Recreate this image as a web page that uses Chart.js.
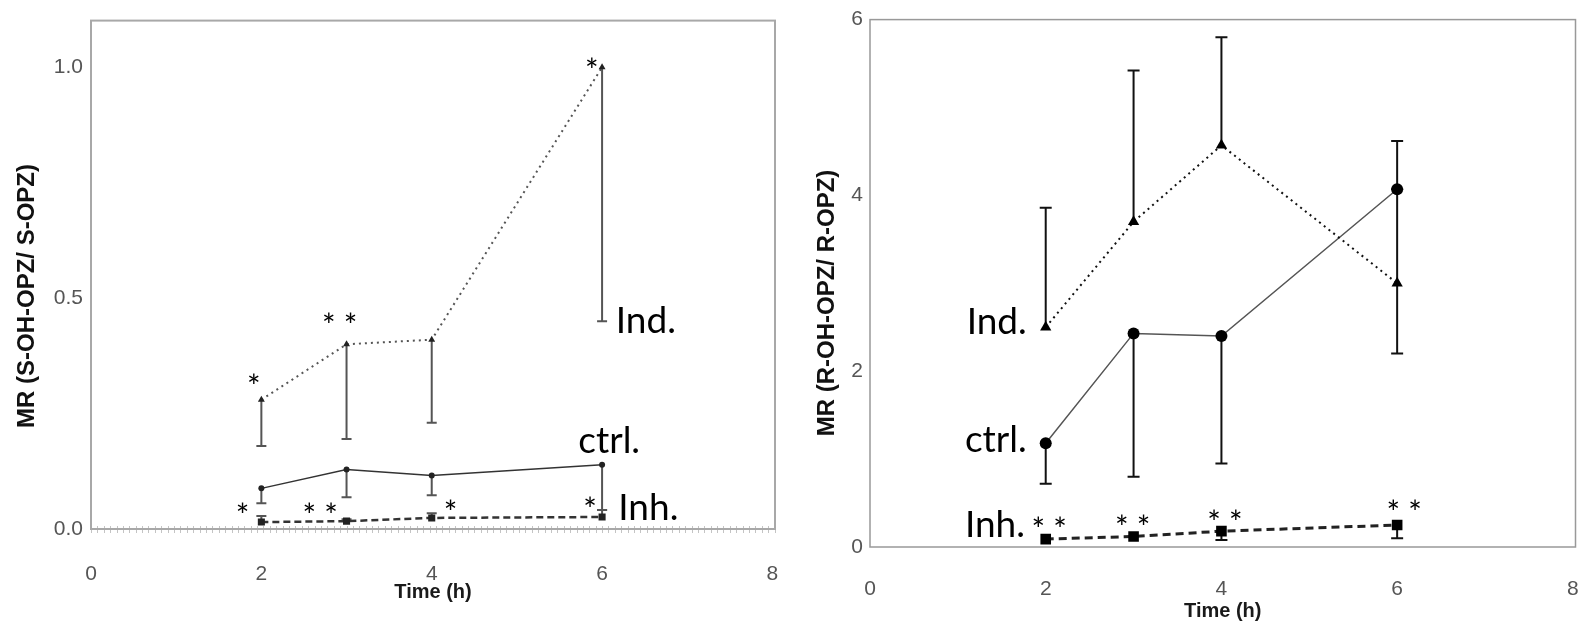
<!DOCTYPE html>
<html>
<head>
<meta charset="utf-8">
<script src="https://cdn.jsdelivr.net/npm/chart.js@4.4.1/dist/chart.umd.min.js"></script>
<style>
  html, body { margin: 0; padding: 0; background: #fff; }
  body { width: 1583px; height: 626px; position: relative; overflow: hidden; }
  .panel { position: absolute; top: 0; height: 626px; }
  #leftPanel { left: 0; width: 790px; }
  #rightPanel { left: 790px; width: 793px; }
</style>
</head>
<body>
<div class="panel" id="leftPanel"><canvas id="leftChart" width="790" height="626"></canvas></div>
<div class="panel" id="rightPanel"><canvas id="rightChart" width="793" height="626"></canvas></div>
<script>
// time points (h) and axis ticks
const times = [2, 3, 4, 6];
const xTicks = [0, 2, 4, 6, 8];

// left panel: MR (S-OH-OPZ / S-OPZ)
const sInd = [0.28, 0.40, 0.41, 1.00];
const sIndErrDown = [0.10, 0.205, 0.18, 0.55];
const sCtrl = [0.088, 0.129, 0.116, 0.139];
const sCtrlErrDown = [0.032, 0.06, 0.043, 0.098];
const sInh = [0.015, 0.017, 0.024, 0.026];
const sInhErrUp = [0.013, 0.004, 0.010, 0.015];
const sYTicks = [0, 0.5, 1.0];

// right panel: MR (R-OH-OPZ / R-OPZ)
const rInd = [2.50, 3.70, 4.57, 3.00];
const rIndErrUp = [1.36, 1.72, 1.23, 1.07];
const rIndErrDown = [0, 0, 0, 0.80];
const rCtrl = [1.18, 2.43, 2.40, 4.07];
const rCtrlErrUp = [0, 0, 0, 0.55];
const rCtrlErrDown = [0.46, 1.63, 1.45, 0];
const rInh = [0.09, 0.12, 0.18, 0.25];
const rInhErrDown = [0, 0, 0.10, 0.15];
const rYTicks = [0, 2, 4, 6];

// significance marks and group labels (data coords)
const sStars = [[1.91, 0.324, "*"], [2.92, 0.457, "* *"], [5.88, 1.01, "*"],
                [1.78, 0.045, "*"], [2.69, 0.045, "* *"], [4.22, 0.052, "*"], [5.86, 0.058, "*"]];
const sLabels = [[6.16, 0.425, "Ind."], [5.72, 0.165, "ctrl."], [6.19, 0.019, "Inh."]];
const rStars = [[2.04, 0.28, "* *"], [2.99, 0.31, "* *"], [4.04, 0.36, "* *"], [6.08, 0.48, "* *"]];
const rLabels = [[1.10, 2.42, "Ind."], [1.08, 1.08, "ctrl."], [1.08, 0.11, "Inh."]];

const tickFont = "'Liberation Sans', Arial, sans-serif";
const noteFont = "Lato, 'Open Sans', sans-serif";

// error bars, drawn under the markers
const errorBars = {
    id: "errorBars",
    beforeDatasetsDraw(chart, args, opts) {
        const ctx = chart.ctx, xs = chart.scales.x, ys = chart.scales.y;
        ctx.save();
        ctx.strokeStyle = opts.color;
        ctx.lineWidth = opts.width;
        chart.data.datasets.forEach(ds => {
            ds.data.forEach((p, i) => {
                const px = xs.getPixelForValue(p.x);
                [[ds.errUp, 1], [ds.errDown, -1]].forEach(([arr, sign]) => {
                    if (!arr || !arr[i]) return;
                    const py0 = ys.getPixelForValue(p.y);
                    const py1 = ys.getPixelForValue(p.y + sign * arr[i]);
                    ctx.beginPath();
                    ctx.moveTo(px, py0);
                    ctx.lineTo(px, py1);
                    ctx.moveTo(px - opts.cap, py1);
                    ctx.lineTo(px + opts.cap, py1);
                    ctx.stroke();
                });
            });
        });
        ctx.restore();
    }
};

// frame, minor ticks, y title, stars and labels
const decorations = {
    id: "decorations",
    beforeDatasetsDraw(chart, args, opts) {
        const ctx = chart.ctx, a = chart.chartArea, xs = chart.scales.x;
        ctx.save();
        if (opts.minorStep) {
            ctx.strokeStyle = "#c4c4c4";
            ctx.lineWidth = 1;
            ctx.beginPath();
            for (let v = 0; v <= xs.max; v += opts.minorStep) {
                const px = Math.round(xs.getPixelForValue(v)) + 0.5;
                ctx.moveTo(px, a.bottom - 3);
                ctx.lineTo(px, a.bottom + 4);
            }
            ctx.stroke();
        }
        ctx.strokeStyle = opts.frameColor;
        ctx.lineWidth = opts.frameWidth;
        ctx.strokeRect(a.left, a.top, a.right - a.left, a.bottom - a.top);
        // y axis title
        ctx.translate(opts.yTitle.x, opts.yTitle.y);
        ctx.rotate(-Math.PI / 2);
        ctx.fillStyle = "#111";
        ctx.font = "bold 24px " + tickFont;
        ctx.textAlign = "center";
        ctx.textBaseline = "middle";
        ctx.fillText(opts.yTitle.text, 0, 0);
        ctx.restore();
    },
    afterDatasetsDraw(chart, args, opts) {
        const ctx = chart.ctx, xs = chart.scales.x, ys = chart.scales.y;
        ctx.save();
        ctx.fillStyle = "#000";
        ctx.textBaseline = "alphabetic";
        ctx.font = "32px " + noteFont;
        ctx.textAlign = "center";
        opts.stars.forEach(([x, y, t]) => {
            ctx.fillText(t, xs.getPixelForValue(x), ys.getPixelForValue(y) + 19);
        });
        ctx.font = "37px " + noteFont;
        ctx.textAlign = "left";
        opts.labels.forEach(([x, y, t]) => {
            ctx.fillText(t, xs.getPixelForValue(x), ys.getPixelForValue(y));
        });
        ctx.restore();
    }
};

const mrChartBuilder = (canvasId, setup) => {
    try {
        let canvasObject = document.getElementById(canvasId);
        if (canvasObject === null) return;
        let datasets = setup.series.map(s => ({
            label: s.label,
            data: times.map((t, i) => ({ x: t, y: s.values[i] })),
            errUp: s.errUp,
            errDown: s.errDown,
            borderColor: s.color,
            borderWidth: s.width,
            borderDash: s.dash,
            pointStyle: s.marker,
            pointRadius: s.radius,
            pointBackgroundColor: s.pointColor,
            pointBorderWidth: 0,
            fill: false,
            tension: 0,
        }));
        new Chart(canvasObject, {
            type: "line",
            data: { datasets: datasets },
            plugins: [errorBars, decorations],
            options: {
                responsive: false,
                animation: false,
                layout: { padding: { left: 0, top: 16, right: setup.padRight, bottom: 0 } },
                plugins: {
                    legend: { display: false },
                    tooltip: { enabled: false },
                    errorBars: setup.errorBars,
                    decorations: setup.decorations,
                },
                scales: {
                    x: {
                        type: "linear",
                        min: 0,
                        max: setup.xMax,
                        afterBuildTicks: sc => { sc.ticks = xTicks.map(v => ({ value: v })); },
                        afterFit: sc => {
                            sc.height = setup.xHeight;
                            // tick padding would otherwise widen the side margins
                            sc.paddingLeft = 0;
                            sc.paddingRight = 0;
                        },
                        grid: { display: false, drawTicks: false },
                        border: { display: false },
                        ticks: { padding: setup.xTickPad, color: "#555", font: { family: tickFont, size: 21 } },
                        title: {
                            display: true,
                            text: "Time (h)",
                            color: "#1a1a1a",
                            font: { family: tickFont, size: 20, weight: "bold" },
                            padding: { top: 0, bottom: setup.xTitlePad },
                        },
                    },
                    y: {
                        type: "linear",
                        min: 0,
                        max: setup.yMax,
                        afterBuildTicks: sc => { sc.ticks = setup.yTicks.map(v => ({ value: v })); },
                        afterFit: sc => { sc.width = setup.yWidth; },
                        grid: { display: false, drawTicks: false },
                        border: { display: false },
                        ticks: {
                            padding: setup.yTickPad,
                            color: "#555",
                            font: { family: tickFont, size: 21 },
                            callback: v => setup.yFormat(v),
                        },
                    },
                },
            },
        });
    } catch (error) {
        console.log(error.message);
    }
};

mrChartBuilder("leftChart", {
    series: [
        { label: "Ind.", values: sInd, errDown: sIndErrDown, color: "#555", width: 2, dash: [2, 4], marker: "triangle", radius: 4, pointColor: "#222" },
        { label: "ctrl.", values: sCtrl, errDown: sCtrlErrDown, color: "#333", width: 1.5, dash: [], marker: "circle", radius: 3, pointColor: "#222" },
        { label: "Inh.", values: sInh, errUp: sInhErrUp, color: "#333", width: 2.5, dash: [7, 4], marker: "rect", radius: 5, pointColor: "#222" },
    ],
    padRight: 15, xMax: 8.03, xHeight: 97, xTickPad: 33, xTitlePad: 22,
    yMax: 1.101, yTicks: sYTicks, yWidth: 91, yTickPad: 8, yFormat: v => v.toFixed(1),
    errorBars: { color: "#555", width: 2, cap: 5 },
    decorations: {
        minorStep: 0.075, frameColor: "#a8a8a8", frameWidth: 2,
        yTitle: { text: "MR (S-OH-OPZ/ S-OPZ)", x: 27, y: 296 },
        stars: sStars, labels: sLabels,
    },
});

mrChartBuilder("rightChart", {
    series: [
        { label: "Ind.", values: rInd, errUp: rIndErrUp, errDown: rIndErrDown, color: "#111", width: 2, dash: [2, 4], marker: "triangle", radius: 6.5, pointColor: "#000" },
        { label: "ctrl.", values: rCtrl, errUp: rCtrlErrUp, errDown: rCtrlErrDown, color: "#555", width: 1.5, dash: [], marker: "circle", radius: 6, pointColor: "#000" },
        { label: "Inh.", values: rInh, errDown: rInhErrDown, color: "#222", width: 3, dash: [8, 5], marker: "rect", radius: 7.5, pointColor: "#000" },
    ],
    padRight: 7, xMax: 8.03, xHeight: 79, xTickPad: 30, xTitlePad: 3,
    yMax: 6, yTicks: rYTicks, yWidth: 80, yTickPad: 7, yFormat: v => String(v),
    errorBars: { color: "#111", width: 2, cap: 6 },
    decorations: {
        minorStep: 0, frameColor: "#999", frameWidth: 1.5,
        yTitle: { text: "MR (R-OH-OPZ/ R-OPZ)", x: 37, y: 303 },
        stars: rStars, labels: rLabels,
    },
});
</script>
</body>
</html>
